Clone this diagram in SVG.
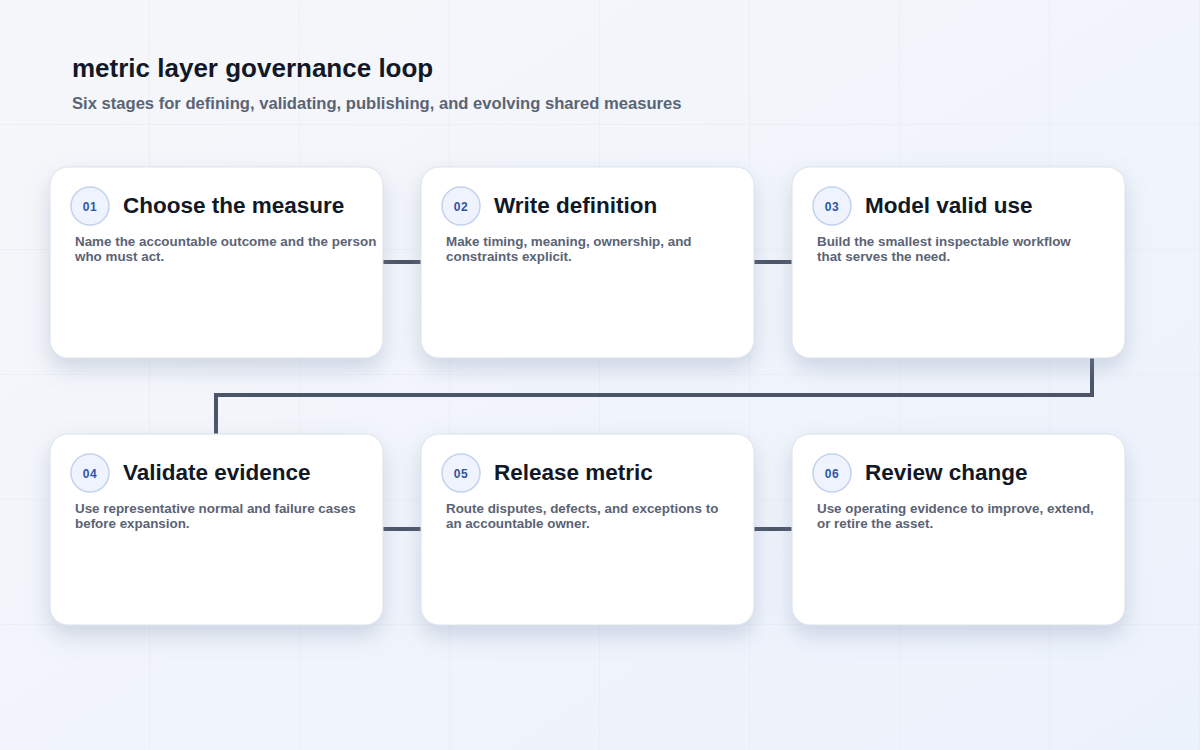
<svg xmlns="http://www.w3.org/2000/svg" width="1200" height="750" viewBox="0 0 1200 750">
<defs>
<linearGradient id="bg" x1="0" y1="0" x2="1" y2="1">
<stop offset="0" stop-color="#f6f7fa"/>
<stop offset="1" stop-color="#ecf2fc"/>
</linearGradient>
<filter id="sh" x="-20%" y="-20%" width="140%" height="150%">
<feDropShadow dx="0" dy="10" stdDeviation="11" flood-color="#7f90b0" flood-opacity="0.32"/>
</filter>
<pattern id="grid" width="150" height="125" patternUnits="userSpaceOnUse">
<path d="M150 0V125M0 125H150" fill="none" stroke="#e4e8ef" stroke-width="1"/>
</pattern>
</defs>
<style>
text{font-family:"Liberation Sans",Arial,sans-serif;font-weight:bold}
.card{fill:#ffffff;stroke:#dbe2ec;stroke-width:1;filter:url(#sh)}
.badge{fill:#eef3fd;stroke:#c3d2ec;stroke-width:1.5}
.num{font-size:12px;fill:#2f55a4;text-anchor:middle;letter-spacing:0.5px}
.ttl{font-size:22.5px;fill:#111827}
.desc{font-size:13.4px;fill:#5b6375}
.conn{fill:none;stroke:#4b5567;stroke-width:4}
</style>
<rect width="1200" height="750" fill="url(#bg)"/>
<rect width="1200" height="749" fill="url(#grid)"/>
<text x="72" y="77" font-size="26" fill="#111827">metric layer governance loop</text>
<text x="72" y="109" font-size="16.6" fill="#5b6475">Six stages for defining, validating, publishing, and evolving shared measures</text>
<g id="connectors">
<path class="conn" d="M383 262H421"/>
<path class="conn" d="M754 262H792"/>
<path class="conn" d="M1092 358V395H216V434"/>
<path class="conn" d="M383 529H421"/>
<path class="conn" d="M754 529H792"/>
</g>
<g id="node-01">
<rect class="card" x="50" y="167" width="333" height="191" rx="18"/>
<circle class="badge" cx="90" cy="206" r="19"/>
<text class="num" x="90" y="210.5">01</text>
<text class="ttl" x="123" y="213">Choose the measure</text>
<text class="desc" x="75" y="246">Name the accountable outcome and the person</text>
<text class="desc" x="75" y="261">who must act.</text>
</g>
<g id="node-02">
<rect class="card" x="421" y="167" width="333" height="191" rx="18"/>
<circle class="badge" cx="461" cy="206" r="19"/>
<text class="num" x="461" y="210.5">02</text>
<text class="ttl" x="494" y="213">Write definition</text>
<text class="desc" x="446" y="246">Make timing, meaning, ownership, and</text>
<text class="desc" x="446" y="261">constraints explicit.</text>
</g>
<g id="node-03">
<rect class="card" x="792" y="167" width="333" height="191" rx="18"/>
<circle class="badge" cx="832" cy="206" r="19"/>
<text class="num" x="832" y="210.5">03</text>
<text class="ttl" x="865" y="213">Model valid use</text>
<text class="desc" x="817" y="246">Build the smallest inspectable workflow</text>
<text class="desc" x="817" y="261">that serves the need.</text>
</g>
<g id="node-04">
<rect class="card" x="50" y="434" width="333" height="191" rx="18"/>
<circle class="badge" cx="90" cy="473" r="19"/>
<text class="num" x="90" y="477.5">04</text>
<text class="ttl" x="123" y="480">Validate evidence</text>
<text class="desc" x="75" y="513">Use representative normal and failure cases</text>
<text class="desc" x="75" y="528">before expansion.</text>
</g>
<g id="node-05">
<rect class="card" x="421" y="434" width="333" height="191" rx="18"/>
<circle class="badge" cx="461" cy="473" r="19"/>
<text class="num" x="461" y="477.5">05</text>
<text class="ttl" x="494" y="480">Release metric</text>
<text class="desc" x="446" y="513">Route disputes, defects, and exceptions to</text>
<text class="desc" x="446" y="528">an accountable owner.</text>
</g>
<g id="node-06">
<rect class="card" x="792" y="434" width="333" height="191" rx="18"/>
<circle class="badge" cx="832" cy="473" r="19"/>
<text class="num" x="832" y="477.5">06</text>
<text class="ttl" x="865" y="480">Review change</text>
<text class="desc" x="817" y="513">Use operating evidence to improve, extend,</text>
<text class="desc" x="817" y="528">or retire the asset.</text>
</g>
</svg>
